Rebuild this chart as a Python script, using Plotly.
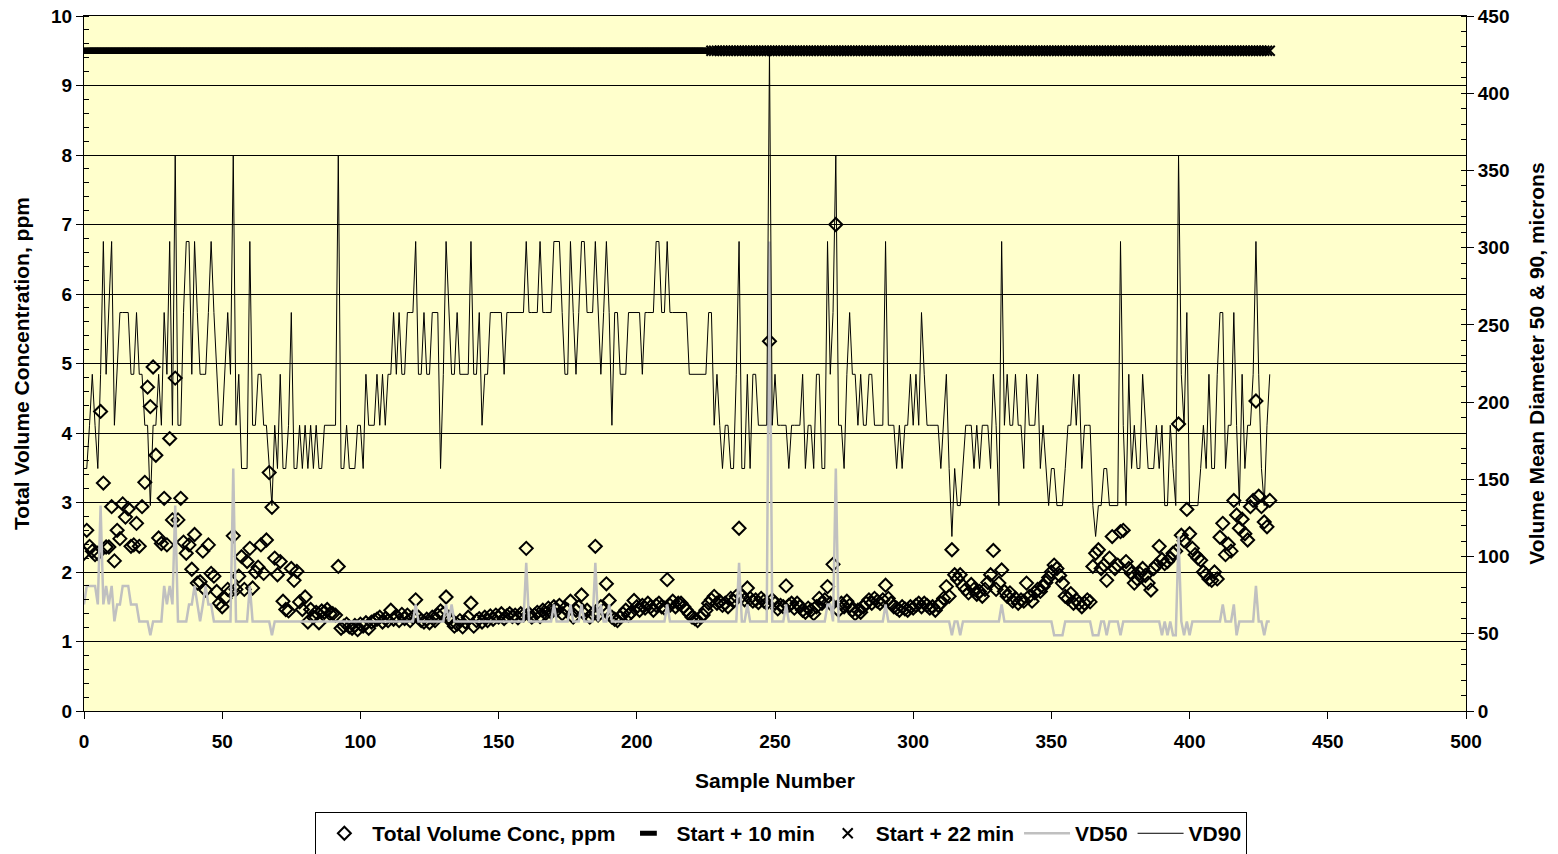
import plotly.graph_objects as go

# ---- data -------------------------------------------------------------
sample_number = list(range(430))

# Total volume concentration (ppm), one value per sample
total_volume_conc = [
    2.27, 2.60, 2.37, 2.30, 2.25, 2.27, 4.31, 3.28, 2.36, 2.36,
    2.94, 2.16, 2.60, 2.48, 2.98, 2.79, 2.91, 2.37, 2.39, 2.70,
    2.37, 2.94, 3.29, 4.66, 4.38, 4.95, 3.68, 2.49, 2.41, 3.06,
    2.39, 3.92, 2.75, 4.79, 2.75, 3.06, 2.43, 2.27, 2.39, 2.04,
    2.54, 1.84, 1.86, 2.30, 1.74, 2.39, 1.98, 1.94, 1.72, 1.55,
    1.50, 1.62, 1.75, 1.72, 2.52, 1.75, 1.94, 2.22, 1.75, 2.15,
    2.34, 1.77, 2.00, 2.07, 2.39, 1.98, 2.46, 3.43, 2.93, 2.20,
    1.96, 2.15, 1.58, 1.46, 1.44, 2.05, 1.88, 2.01, 1.57, 1.46,
    1.64, 1.28, 1.46, 1.35, 1.42, 1.27, 1.44, 1.42, 1.46, 1.40,
    1.40, 1.38, 2.08, 1.19, 1.22, 1.25, 1.21, 1.19, 1.23, 1.17,
    1.25, 1.22, 1.27, 1.19, 1.28, 1.30, 1.32, 1.35, 1.28, 1.33,
    1.30, 1.45, 1.32, 1.37, 1.30, 1.39, 1.33, 1.38, 1.30, 1.35,
    1.60, 1.35, 1.30, 1.28, 1.32, 1.27, 1.35, 1.30, 1.38, 1.44,
    1.40, 1.64, 1.35, 1.28, 1.22, 1.25, 1.30, 1.21, 1.28, 1.35,
    1.55, 1.22, 1.30, 1.33, 1.28, 1.35, 1.30, 1.37, 1.32, 1.38,
    1.35, 1.40, 1.33, 1.37, 1.40, 1.36, 1.38, 1.34, 1.40, 1.38,
    2.34, 1.40, 1.35, 1.38, 1.42, 1.36, 1.45, 1.40, 1.48, 1.42,
    1.50, 1.45, 1.52, 1.40, 1.48, 1.45, 1.58, 1.35, 1.45, 1.50,
    1.67, 1.40, 1.45, 1.35, 1.40, 2.37, 1.38, 1.50, 1.45, 1.83,
    1.59, 1.35, 1.32, 1.30, 1.35, 1.40, 1.45, 1.38, 1.42, 1.59,
    1.50, 1.45, 1.52, 1.48, 1.55, 1.50, 1.45, 1.52, 1.55, 1.50,
    1.48, 1.89, 1.52, 1.58, 1.50, 1.55, 1.55, 1.50, 1.45, 1.40,
    1.35, 1.33, 1.30, 1.35, 1.38, 1.45, 1.55, 1.60, 1.65, 1.55,
    1.58, 1.52, 1.55, 1.50, 1.62, 1.58, 1.65, 2.63, 1.65, 1.60,
    1.77, 1.62, 1.58, 1.60, 1.56, 1.62, 1.58, 1.55, 5.32, 1.60,
    1.55, 1.47, 1.52, 1.50, 1.80, 1.52, 1.55, 1.48, 1.55, 1.50,
    1.45, 1.42, 1.48, 1.45, 1.40, 1.50, 1.62, 1.55, 1.60, 1.79,
    1.55, 2.11, 7.00, 1.45, 1.55, 1.50, 1.58, 1.52, 1.45, 1.40,
    1.45, 1.42, 1.50, 1.55, 1.60, 1.55, 1.62, 1.58, 1.55, 1.60,
    1.81, 1.62, 1.55, 1.50, 1.48, 1.45, 1.50, 1.47, 1.45, 1.50,
    1.48, 1.52, 1.55, 1.50, 1.55, 1.52, 1.48, 1.50, 1.45, 1.52,
    1.55, 1.62, 1.79, 1.65, 2.32, 1.96, 1.90, 1.96, 1.80, 1.75,
    1.70, 1.82, 1.75, 1.68, 1.72, 1.65, 1.75, 1.85, 1.96, 2.31,
    1.75, 1.84, 2.03, 1.72, 1.65, 1.70, 1.58, 1.62, 1.55, 1.60,
    1.58, 1.84, 1.65, 1.58, 1.70, 1.75, 1.72, 1.79, 1.85, 1.92,
    2.00, 2.10, 2.05, 1.95, 1.84, 1.65, 1.62, 1.69, 1.55, 1.60,
    1.55, 1.50, 1.55, 1.60, 1.57, 2.08, 2.27, 2.32, 2.05, 2.10,
    1.88, 2.20, 2.51, 2.05, 2.10, 2.58, 2.60, 2.15, 2.05, 1.98,
    1.84, 1.90, 1.98, 2.05, 1.95, 1.84, 1.74, 2.05, 2.10, 2.37,
    2.18, 2.12, 2.15, 2.20, 2.27, 2.30, 4.13, 2.53, 2.45, 2.90,
    2.55, 2.34, 2.25, 2.20, 2.17, 2.00, 1.96, 1.90, 1.88, 2.00,
    1.90, 2.50, 2.70, 2.25, 2.40, 2.30, 3.03, 2.82, 2.63, 2.76,
    2.55, 2.46, 2.94, 3.03, 4.46, 3.09, 2.94, 2.72, 2.65, 3.03,
]

# Volume mean diameter VD50 (microns)
vd50 = [
    69, 81, 81, 81, 81, 69, 133, 69, 81, 69,
    81, 58, 69, 69, 81, 81, 81, 69, 69, 69,
    58, 58, 58, 58, 49, 58, 58, 58, 58, 81,
    69, 81, 69, 133, 58, 58, 58, 58, 69, 69,
    81, 69, 58, 69, 81, 69, 69, 58, 58, 58,
    58, 58, 58, 58, 157, 58, 58, 58, 58, 58,
    81, 58, 58, 58, 58, 58, 58, 58, 49, 58,
    58, 58, 58, 58, 58, 58, 58, 58, 58, 58,
    58, 58, 58, 58, 58, 58, 58, 58, 58, 58,
    58, 58, 58, 58, 58, 58, 58, 58, 58, 58,
    58, 58, 58, 58, 58, 58, 58, 58, 58, 58,
    58, 58, 58, 58, 58, 58, 58, 58, 58, 58,
    69, 58, 58, 58, 58, 58, 58, 58, 58, 58,
    58, 69, 58, 69, 58, 58, 58, 58, 58, 58,
    58, 58, 58, 58, 58, 58, 58, 58, 58, 58,
    58, 58, 58, 58, 58, 58, 58, 58, 58, 58,
    96, 58, 58, 58, 58, 58, 58, 58, 58, 58,
    69, 58, 58, 58, 58, 58, 69, 58, 58, 58,
    69, 58, 58, 58, 58, 96, 58, 69, 58, 58,
    69, 58, 58, 58, 58, 58, 58, 58, 58, 58,
    58, 58, 58, 58, 58, 58, 58, 58, 58, 58,
    58, 69, 58, 58, 58, 58, 58, 58, 58, 58,
    58, 58, 58, 58, 58, 58, 58, 58, 58, 58,
    58, 58, 58, 58, 58, 58, 58, 96, 58, 58,
    69, 58, 58, 58, 58, 58, 58, 58, 304, 58,
    58, 58, 58, 58, 69, 58, 58, 58, 58, 58,
    58, 58, 58, 58, 58, 58, 58, 58, 58, 69,
    69, 58, 157, 58, 58, 58, 58, 58, 58, 58,
    58, 58, 58, 58, 58, 58, 58, 58, 58, 58,
    69, 58, 58, 58, 58, 58, 58, 58, 58, 58,
    58, 58, 58, 58, 58, 58, 58, 58, 58, 58,
    58, 58, 58, 58, 49, 58, 58, 49, 58, 58,
    58, 58, 58, 58, 58, 58, 58, 58, 58, 58,
    58, 58, 69, 58, 58, 58, 58, 58, 58, 58,
    58, 58, 58, 58, 58, 58, 58, 58, 58, 58,
    58, 49, 49, 49, 49, 58, 58, 58, 58, 58,
    58, 58, 58, 58, 58, 49, 49, 49, 58, 58,
    49, 58, 58, 58, 58, 49, 58, 58, 58, 58,
    58, 58, 58, 58, 58, 58, 58, 58, 58, 58,
    49, 58, 49, 58, 49, 49, 113, 58, 49, 58,
    49, 58, 58, 58, 58, 58, 58, 58, 58, 58,
    58, 58, 69, 58, 58, 58, 69, 49, 58, 58,
    58, 58, 58, 58, 81, 58, 58, 49, 58, 58,
]

# Volume mean diameter VD90 (microns)
vd90 = [
    157, 157, 185, 218, 185, 157, 218, 304, 218, 258,
    304, 185, 218, 258, 258, 258, 258, 218, 218, 258,
    218, 218, 185, 185, 133, 185, 185, 218, 185, 258,
    218, 304, 185, 360, 185, 185, 258, 304, 304, 218,
    304, 258, 218, 218, 218, 258, 304, 258, 218, 185,
    185, 218, 258, 218, 360, 185, 218, 157, 157, 157,
    304, 185, 185, 218, 218, 185, 185, 157, 133, 185,
    157, 218, 157, 157, 185, 258, 157, 157, 185, 157,
    185, 157, 185, 157, 185, 157, 157, 185, 185, 185,
    185, 185, 360, 157, 157, 185, 157, 157, 157, 185,
    185, 157, 218, 185, 185, 185, 218, 185, 218, 185,
    218, 218, 258, 218, 258, 218, 218, 258, 258, 258,
    304, 218, 218, 258, 218, 218, 258, 258, 258, 157,
    218, 304, 258, 218, 218, 258, 218, 218, 218, 218,
    304, 218, 218, 258, 185, 218, 218, 258, 258, 258,
    258, 258, 218, 258, 258, 258, 258, 258, 258, 258,
    304, 258, 258, 258, 258, 304, 258, 258, 258, 258,
    304, 304, 304, 258, 218, 218, 304, 258, 218, 258,
    304, 304, 258, 258, 258, 304, 258, 218, 258, 304,
    258, 185, 258, 258, 218, 218, 218, 258, 258, 258,
    258, 258, 218, 258, 258, 258, 258, 304, 304, 258,
    258, 304, 258, 258, 258, 258, 258, 258, 258, 218,
    218, 218, 218, 218, 218, 218, 258, 258, 185, 218,
    185, 157, 185, 185, 157, 157, 218, 304, 157, 157,
    218, 157, 218, 218, 185, 185, 185, 185, 428, 185,
    218, 185, 185, 185, 185, 157, 185, 185, 185, 185,
    218, 157, 185, 185, 157, 218, 218, 157, 157, 304,
    218, 258, 360, 185, 185, 157, 218, 258, 218, 218,
    185, 218, 185, 185, 218, 218, 185, 185, 185, 185,
    304, 185, 185, 185, 157, 185, 157, 185, 185, 218,
    185, 218, 185, 258, 218, 185, 185, 185, 185, 185,
    157, 185, 218, 157, 113, 157, 133, 133, 157, 185,
    185, 185, 157, 185, 157, 185, 185, 185, 157, 218,
    185, 133, 304, 185, 218, 185, 185, 218, 185, 185,
    157, 218, 185, 185, 185, 218, 157, 185, 157, 133,
    157, 157, 133, 133, 133, 157, 185, 185, 218, 185,
    218, 157, 185, 185, 185, 133, 113, 133, 133, 157,
    157, 133, 133, 133, 133, 304, 185, 133, 218, 157,
    185, 157, 157, 218, 185, 157, 157, 157, 185, 157,
    185, 133, 133, 185, 157, 133, 360, 218, 185, 258,
    133, 133, 133, 133, 157, 185, 157, 218, 157, 157,
    218, 258, 258, 157, 185, 185, 258, 185, 133, 218,
    157, 185, 185, 218, 304, 218, 157, 133, 185, 218,
]

# Timing flags drawn as a band of markers near the top of the chart
flag_level = 9.5
start10_samples = list(range(0, 227))
start22_samples = list(range(227, 430))

# ---- styling ----------------------------------------------------------
FONT = "Liberation Sans, Arial, sans-serif"
tick_font = dict(family=FONT, size=19, color="black", weight="bold")
title_font = dict(family=FONT, size=21, color="black", weight="bold")

fig = go.Figure()

fig.add_trace(go.Scatter(
    x=sample_number, y=total_volume_conc, mode="markers",
    name="Total Volume Conc, ppm",
    marker=dict(symbol="diamond-open", size=10, color="black",
                line=dict(color="black", width=2)),
))

fig.add_trace(go.Scatter(
    x=start10_samples, y=[flag_level] * len(start10_samples), mode="markers",
    name="Start + 10 min",
    marker=dict(symbol="line-ew", size=12, color="black",
                line=dict(color="black", width=6)),
))

fig.add_trace(go.Scatter(
    x=start22_samples, y=[flag_level] * len(start22_samples), mode="markers",
    name="Start + 22 min",
    marker=dict(symbol="x-thin-open", size=10, color="black",
                line=dict(color="black", width=2)),
))

fig.add_trace(go.Scatter(
    x=sample_number, y=vd50, mode="lines", name="VD50", yaxis="y2",
    line=dict(color="#C0C0C0", width=2.5),
))

fig.add_trace(go.Scatter(
    x=sample_number, y=vd90, mode="lines", name="VD90", yaxis="y2",
    line=dict(color="black", width=1),
))

fig.update_layout(
    width=1558, height=854,
    margin=dict(l=84, r=92, t=16, b=143, autoexpand=False),
    plot_bgcolor="#FFFFCC", paper_bgcolor="white",
    font=dict(family=FONT, size=19, color="black"),
    showlegend=True,
    legend=dict(
        orientation="h", x=0.5046, xanchor="center", y=-0.1455, yanchor="top",
        bordercolor="black", borderwidth=1, bgcolor="white",
        font=title_font, itemwidth=46, tracegroupgap=0,
    ),
    xaxis=dict(
        range=[0, 500], dtick=50, tick0=0,
        showgrid=False, zeroline=False,
        showline=True, linecolor="black", linewidth=1, mirror=True,
        ticks="outside", ticklen=7, tickcolor="black",
        tickfont=tick_font, ticklabelstandoff=6,
        title=dict(text="Sample Number", font=title_font, standoff=22),
    ),
    yaxis=dict(
        range=[0, 10], dtick=1, tick0=0,
        showgrid=True, gridcolor="black", gridwidth=1, zeroline=False,
        showline=True, linecolor="black", linewidth=1, mirror=True,
        ticks="outside", ticklen=7, tickcolor="black",
        minor=dict(dtick=0.2, ticks="inside", ticklen=5, tickcolor="black",
                   showgrid=False),
        tickfont=tick_font,
        title=dict(text="Total Volume Concentration, ppm", font=title_font,
                   standoff=15),
    ),
    yaxis2=dict(
        range=[0, 450], dtick=50, tick0=0, overlaying="y", side="right",
        showgrid=False, zeroline=False,
        showline=True, linecolor="black", linewidth=1,
        ticks="outside", ticklen=7, tickcolor="black",
        minor=dict(dtick=10, ticks="inside", ticklen=5, tickcolor="black",
                   showgrid=False),
        tickfont=tick_font,
        title=dict(text="Volume Mean Diameter 50 & 90, microns",
                   font=title_font, standoff=20),
    ),
)

fig.write_html("out.html")
